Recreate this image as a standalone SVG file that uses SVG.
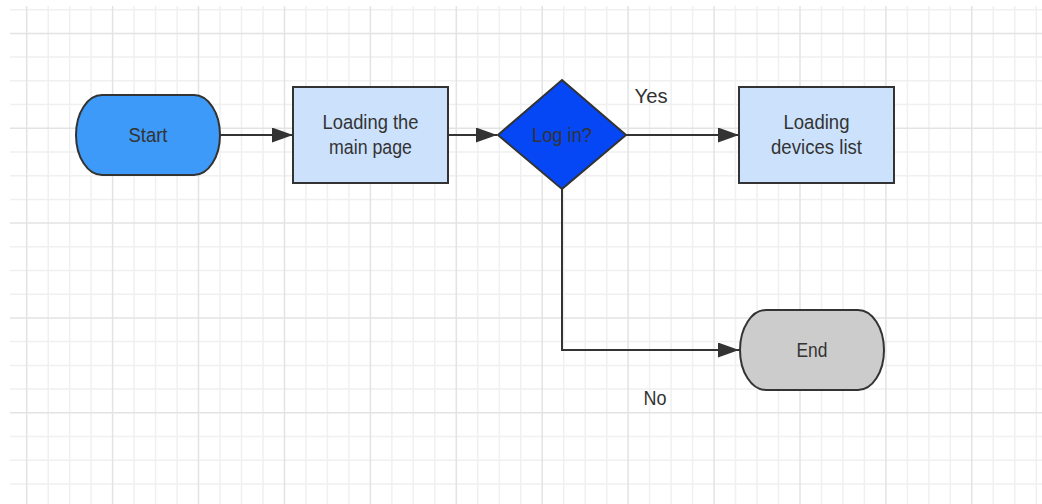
<svg xmlns="http://www.w3.org/2000/svg" width="1042" height="504" viewBox="0 0 1042 504">
  <style>
    .minor { stroke: #f0f0f0; stroke-width: 1.5; fill: none; }
    .major { stroke: #e3e3e3; stroke-width: 1.5; fill: none; }
    .shape { stroke: #333333; stroke-width: 2; }
    .edge { stroke: #333333; stroke-width: 2; fill: none; }
    .label { font-family: "Liberation Sans", Arial, sans-serif; font-size: 20.5px; fill: #333333; text-anchor: middle; }
  </style>
  <defs>
    <marker id="arrow" markerUnits="userSpaceOnUse" markerWidth="21" markerHeight="15" refX="21" refY="7.5" orient="auto">
      <path d="M0,0 L21,7.5 L0,15 Z" fill="#333333"/>
    </marker>
  </defs>

  <rect width="1042" height="504" fill="#ffffff"/>

  <!-- background grid -->
  <g id="grid">
    <path class="minor" d="M48.2,6V504 M69.7,6V504 M91.1,6V504 M134.1,6V504 M155.6,6V504 M177.1,6V504 M220,6V504 M241.5,6V504 M263,6V504 M305.9,6V504 M327.4,6V504 M348.9,6V504 M391.9,6V504 M413.3,6V504 M434.8,6V504 M477.8,6V504 M499.3,6V504 M520.7,6V504 M563.7,6V504 M585.2,6V504 M606.7,6V504 M649.6,6V504 M671.1,6V504 M692.6,6V504 M735.5,6V504 M757,6V504 M778.5,6V504 M821.5,6V504 M842.9,6V504 M864.4,6V504 M907.4,6V504 M928.9,6V504 M950.3,6V504 M993.3,6V504 M1014.8,6V504 M1036.3,6V504"/>
    <path class="minor" d="M10,9.7H1042 M10,57.1H1042 M10,80.8H1042 M10,104.5H1042 M10,152H1042 M10,175.7H1042 M10,199.4H1042 M10,246.8H1042 M10,270.5H1042 M10,294.2H1042 M10,341.6H1042 M10,365.4H1042 M10,389.1H1042 M10,436.5H1042 M10,460.2H1042 M10,483.9H1042"/>
    <path class="major" d="M26.7,6V504 M112.6,6V504 M198.5,6V504 M284.5,6V504 M370.4,6V504 M456.3,6V504 M542.2,6V504 M628.1,6V504 M714.1,6V504 M800,6V504 M885.9,6V504 M971.8,6V504"/>
    <path class="major" d="M10,33.4H1042 M10,128.3H1042 M10,223.1H1042 M10,317.9H1042 M10,412.8H1042"/>
  </g>

  <!-- connectors -->
  <g id="connectors">
    <path class="edge" d="M220,135H293" marker-end="url(#arrow)"/>
    <path class="edge" d="M448,135H497" marker-end="url(#arrow)"/>
    <path class="edge" d="M626,135H739" marker-end="url(#arrow)"/>
    <path class="edge" d="M562,189V350H739" marker-end="url(#arrow)"/>
    <text class="label" x="651" y="103" textLength="33" lengthAdjust="spacingAndGlyphs">Yes</text>
    <text class="label" x="655" y="405" textLength="23" lengthAdjust="spacingAndGlyphs">No</text>
  </g>

  <g id="start">
    <rect class="shape" x="76" y="95" width="144" height="80" rx="26" ry="40" fill="#3d9af8"/>
    <text class="label" x="148" y="142" textLength="39" lengthAdjust="spacingAndGlyphs">Start</text>
  </g>

  <g id="load-main">
    <rect class="shape" x="293" y="87" width="155" height="96" fill="#cce2fc"/>
    <text class="label" x="370.5" y="129" textLength="96" lengthAdjust="spacingAndGlyphs">Loading the</text>
    <text class="label" x="370.5" y="154" textLength="83" lengthAdjust="spacingAndGlyphs">main page</text>
  </g>

  <g id="login">
    <path class="shape" d="M562,80 L626,135 L562,189 L498,135 Z" fill="#0546f5"/>
    <text class="label" x="562" y="142" textLength="60" lengthAdjust="spacingAndGlyphs">Log in?</text>
  </g>

  <g id="load-devices">
    <rect class="shape" x="739" y="87" width="155" height="96" fill="#cce2fc"/>
    <text class="label" x="816.5" y="129" textLength="66" lengthAdjust="spacingAndGlyphs">Loading</text>
    <text class="label" x="816.5" y="154" textLength="91" lengthAdjust="spacingAndGlyphs">devices list</text>
  </g>

  <g id="end">
    <rect class="shape" x="740" y="310" width="144" height="80" rx="26" ry="40" fill="#cccccc"/>
    <text class="label" x="812" y="357" textLength="31" lengthAdjust="spacingAndGlyphs">End</text>
  </g>
</svg>
